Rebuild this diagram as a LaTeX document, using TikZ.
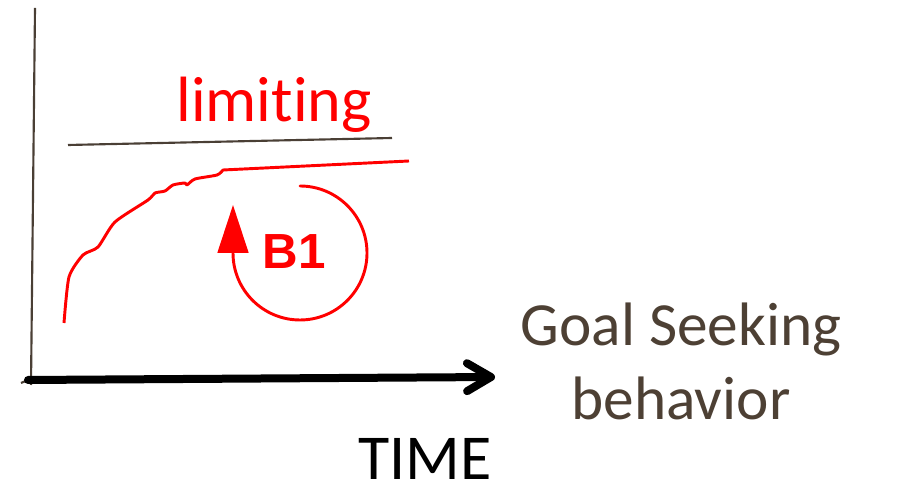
\documentclass[tikz,border=0pt]{standalone}
\usepackage{fontspec}
\setmainfont{Carlito}[Ligatures=NoCommon]
\newfontfamily\arialfont{Liberation Sans}
\usetikzlibrary{arrows.meta}
\definecolor{axisbrown}{HTML}{4A3F35}
\definecolor{labelbrown}{HTML}{4D4034}
\begin{document}
\begin{tikzpicture}[
    x=0.75pt,y=0.75pt,
    axis/.style={draw=axisbrown,line width=1.6pt},
    curve/.style={draw=red,line width=2.2pt,line join=round},
    big/.style={font=\fontsize{48}{56}\selectfont,inner sep=0pt},
    >=stealth
]
\useasboundingbox (0,0) rectangle (902,488);

% axes
\coordinate (top) at (35,480);
\coordinate (orig) at (31,103);
\coordinate (tick) at (21,105);
\coordinate (start) at (28,108);
\coordinate (tip) at (495,111);
\draw[axis] (top)--(orig);
\draw[axis] (tick)--(start);
\draw[line width=6pt,line cap=round,
    -{Straight Barb[length=18pt,width=21pt,round]}] (start)--(tip);

% goal line and the curve under it
\coordinate (goalA) at (68,343);
\coordinate (goalB) at (392,350);
\draw[axis] (goalA)--(goalB);
\draw[curve] plot[smooth,tension=0.4] coordinates {
    (64,165) (69,211) (83,233) (98,241) (115,266) (148,288) (155,295)
    (165,297) (173,303) (185,305) (187,303) (195,309) (217,313) (223,318)}
    -- (409,327);

\node[big,text=red,anchor=base] (limit) at (274,366) {limiting};

% balancing loop
\coordinate (loop) at (300,235);
\draw[curve,line cap=round,-{Triangle[length=36pt,width=23pt]}]
    ([yshift=67*0.75pt]loop) arc[start angle=90,end angle=-180,radius=67]
    -- ++(0,48);
\node[text=red,inner sep=0pt,font=\arialfont\bfseries\fontsize{37}{42}\selectfont]
    (b1) at (294,236) {B1};

\node[big,font=\fontsize{46}{56}\selectfont,text=labelbrown,anchor=base,align=center]
    (goal) at (681,68) {Goal Seeking\\behavior};
\node[big,anchor=south,text depth=0pt] (time) at (425,8) {TIME};
\end{tikzpicture}
\end{document}
